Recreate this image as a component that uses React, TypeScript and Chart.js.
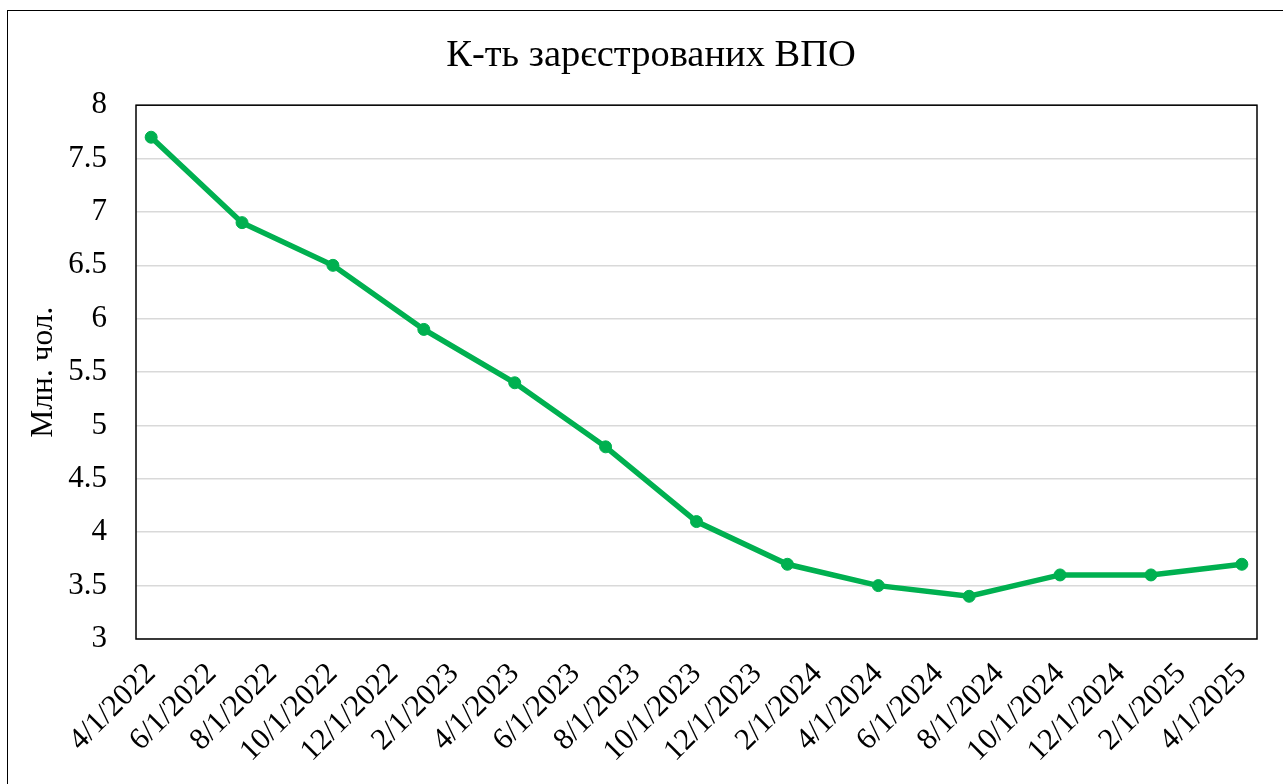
import React, { useEffect, useRef } from "react";
import { Chart, registerables } from "chart.js";

Chart.register(...registerables);

const chartTitle = "К-ть зарєстрованих ВПО";
const yAxisTitle = "Млн. чол.";
const tickLabels = [
  "4/1/2022", "6/1/2022", "8/1/2022", "10/1/2022", "12/1/2022",
  "2/1/2023", "4/1/2023", "6/1/2023", "8/1/2023", "10/1/2023", "12/1/2023",
  "2/1/2024", "4/1/2024", "6/1/2024", "8/1/2024", "10/1/2024", "12/1/2024",
  "2/1/2025", "4/1/2025",
];
const pointDates = [
  "4/1/2022", "7/1/2022", "10/1/2022", "1/1/2023", "4/1/2023", "7/1/2023",
  "10/1/2023", "1/1/2024", "4/1/2024", "7/1/2024", "10/1/2024", "1/1/2025", "4/1/2025",
];
const values = [7.7, 6.9, 6.5, 5.9, 5.4, 4.8, 4.1, 3.7, 3.5, 3.4, 3.6, 3.6, 3.7];

function monthIndex(s: string): number {
  const [m, , y] = s.split("/").map(Number);
  return (y - 2022) * 12 + (m - 4);
}

const FONT = "'Liberation Serif', 'Times New Roman', serif";

const plotBorder = {
  id: "plotBorder",
  beforeDatasetsDraw(chart: any) {
    const { ctx, chartArea } = chart;
    ctx.save();
    ctx.strokeStyle = "#000";
    ctx.lineWidth = 1.5;
    ctx.strokeRect(chartArea.left, chartArea.top, chartArea.right - chartArea.left, chartArea.bottom - chartArea.top);
    ctx.restore();
  },
};

export default function App() {
  const ref = useRef<HTMLCanvasElement | null>(null);

  useEffect(() => {
    if (!ref.current) return;
    const chart = new Chart(ref.current, {
      type: "line",
      data: {
        datasets: [
          {
            data: pointDates.map((d, i) => ({ x: monthIndex(d), y: values[i] })),
            borderColor: "#00B050",
            backgroundColor: "#00B050",
            borderWidth: 5.5,
            pointRadius: 6,
            pointBorderWidth: 1,
            pointBorderColor: "#00B050",
            pointBackgroundColor: "#00B050",
            tension: 0,
            yAxisID: "y",
          },
        ],
      },
      options: {
        animation: false,
        responsive: false,
        maintainAspectRatio: false,
        layout: { padding: { left: 0, right: 0, top: 0, bottom: 0 } },
        plugins: {
          legend: { display: false },
          tooltip: { enabled: false },
          title: {
            display: true,
            text: chartTitle,
            color: "#000",
            font: { family: FONT, size: 38.5, weight: "normal" },
            padding: { top: 22, bottom: 26 },
          },
        },
        scales: {
          x: {
            type: "linear",
            min: -0.5,
            max: 36.5,
            afterBuildTicks: (scale: any) => {
              scale.ticks = tickLabels.map((l) => ({ value: monthIndex(l) }));
            },
            afterFit: (scale: any) => {
              scale.height = 162;
            },
            grid: { display: false, drawTicks: false },
            border: { display: false },
            ticks: {
              autoSkip: false,
              maxRotation: 45,
              minRotation: 45,
              padding: 17,
              color: "#000",
              font: { family: FONT, size: 30.5 },
              callback: (_v: any, i: number) => tickLabels[i],
            },
          },
          y: {
            min: 3,
            max: 8,
            afterFit: (scale: any) => {
              scale.width = 128;
            },
            ticks: {
              stepSize: 0.5,
              padding: 29,
              color: "#000",
              font: { family: FONT, size: 31 },
              callback: (v: any) => String(Number(v)),
            },
            grid: { color: "#D9D9D9", lineWidth: 1.5, drawTicks: false },
            border: { display: false },
            title: {
              display: true,
              text: yAxisTitle,
              color: "#000",
              font: { family: FONT, size: 31.5 },
              padding: { top: 17, bottom: 0 },
            },
          },
          y2: {
            position: "right",
            display: true,
            afterFit: (scale: any) => {
              scale.width = 37;
            },
            ticks: { display: false },
            grid: { display: false, drawTicks: false },
            border: { display: false },
          },
        },
      },
      plugins: [plotBorder],
    });
    return () => chart.destroy();
  }, []);

  return (
    <div style={{ position: "fixed", left: 0, top: 0, width: 1283, height: 784, overflow: "hidden", background: "#fff" }}>
      <div
        style={{
          position: "absolute",
          left: 7,
          top: 10,
          width: 1286,
          height: 790,
          border: "1.5px solid #000",
          boxSizing: "border-box",
        }}
      >
        <canvas ref={ref} width={1286} height={790} style={{ position: "absolute", left: 0, top: 0 }} />
      </div>
    </div>
  );
}
